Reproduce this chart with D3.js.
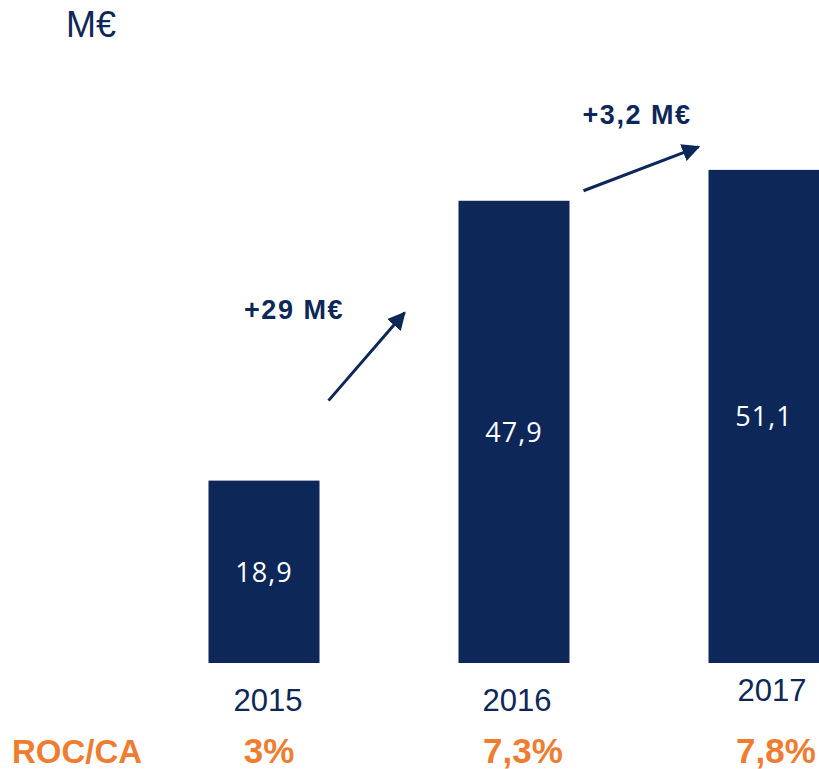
<!DOCTYPE html>
<html>
<head>
<meta charset="utf-8">
<script src="https://cdn.jsdelivr.net/npm/d3@7"></script>
<style>
  body { margin: 0; background: #fff; }
</style>
</head>
<body>
<svg width="819" height="769"></svg>
<script>
var years = ["2015", "2016", "2017"];
var values = [18.9, 47.9, 51.1];
var valueLabels = ["18,9", "47,9", "51,1"];
var ratioLabels = ["3%", "7,3%", "7,8%"];
var deltaLabels = ["+29 M€", "+3,2 M€"];

var navy = "#0c2758",
  orange = "#ef7d31";

var svg = d3.select("svg"),
  width = +svg.attr("width"),
  height = +svg.attr("height");

var x = d3.scaleBand()
  .domain(years)
  .range([139, 889])
  .paddingInner(0.556)
  .paddingOuter(0.278);

var y = d3.scaleLinear()
  .domain([0, 55])
  .range([663, 663 - 55 * 9.65]);

function mid(i) { return x(years[i]) + x.bandwidth() / 2; }

// unit label
svg.append("text")
  .attr("x", 66)
  .attr("y", 37)
  .attr("font-family", "Liberation Sans, Arial, sans-serif")
  .attr("font-size", 36)
  .attr("fill", navy)
  .text("M€");

// bars
svg.append("g")
  .selectAll("rect")
  .data(values)
  .enter().append("rect")
    .attr("x", function(d, i) { return x(years[i]); })
    .attr("y", function(d) { return y(d); })
    .attr("width", x.bandwidth())
    .attr("height", function(d) { return y(0) - y(d); })
    .attr("fill", navy);

// values inside bars
svg.append("g")
  .selectAll("text")
  .data(values)
  .enter().append("text")
    .attr("x", function(d, i) { return mid(i); })
    .attr("y", function(d) { return (y(d) + y(0)) / 2; })
    .attr("dy", "0.36em")
    .attr("text-anchor", "middle")
    .attr("font-family", "Open Sans, Noto Sans, sans-serif")
    .attr("font-size", 27)
    .attr("letter-spacing", 1)
    .attr("fill", "#fff")
    .text(function(d, i) { return valueLabels[i]; });

// year labels (2017 sits a bit higher in the original)
var yearShift = [4, 3, 8];
svg.append("g")
  .selectAll("text")
  .data(years)
  .enter().append("text")
    .attr("x", function(d, i) { return mid(i) + yearShift[i]; })
    .attr("y", function(d, i) { return i == 2 ? 701 : 711; })
    .attr("text-anchor", "middle")
    .attr("font-family", "Liberation Sans, Arial, sans-serif")
    .attr("font-size", 31)
    .attr("fill", navy)
    .text(function(d) { return d; });

// ROC/CA row
svg.append("text")
  .attr("x", 12)
  .attr("y", 763)
  .attr("font-family", "Liberation Sans, Arial, sans-serif")
  .attr("font-weight", "bold")
  .attr("font-size", 33)
  .attr("fill", orange)
  .text("ROC/CA");

var ratioShift = [5, 9, 12];
svg.append("g")
  .selectAll("text")
  .data(ratioLabels)
  .enter().append("text")
    .attr("x", function(d, i) { return mid(i) + ratioShift[i]; })
    .attr("y", 763)
    .attr("text-anchor", "middle")
    .attr("font-family", "Liberation Sans, Arial, sans-serif")
    .attr("font-weight", "bold")
    .attr("font-size", 35)
    .attr("fill", orange)
    .text(function(d) { return d; });

// growth arrows
svg.append("defs").append("marker")
  .attr("id", "head")
  .attr("viewBox", "0 0 10 10")
  .attr("refX", 9)
  .attr("refY", 5)
  .attr("markerWidth", 6)
  .attr("markerHeight", 6)
  .attr("markerUnits", "strokeWidth")
  .attr("orient", "auto")
  .append("path")
    .attr("d", "M0,0 L10,5 L0,10 Z")
    .attr("fill", navy);

var arrows = [
  { x1: x("2015") + x.bandwidth() + 9, y1: y(values[0]) - 80, x2: x("2016") - 54, y2: y(values[1]) + 112,
    lx: 294, ly: 319 },
  { x1: x("2016") + x.bandwidth() + 14, y1: y(values[1]) - 10, x2: x("2017") - 10, y2: y(values[2]) - 23,
    lx: 637, ly: 124 }
];

svg.append("g")
  .selectAll("line")
  .data(arrows)
  .enter().append("line")
    .attr("x1", function(d) { return d.x1; })
    .attr("y1", function(d) { return d.y1; })
    .attr("x2", function(d) { return d.x2; })
    .attr("y2", function(d) { return d.y2; })
    .attr("stroke", navy)
    .attr("stroke-width", 3)
    .attr("marker-end", "url(#head)");

svg.append("g")
  .selectAll("text")
  .data(arrows)
  .enter().append("text")
    .attr("x", function(d) { return d.lx; })
    .attr("y", function(d) { return d.ly; })
    .attr("text-anchor", "middle")
    .attr("font-family", "Liberation Sans, Arial, sans-serif")
    .attr("font-weight", "bold")
    .attr("font-size", 27)
    .attr("letter-spacing", 1.5)
    .attr("fill", navy)
    .text(function(d, i) { return deltaLabels[i]; });
</script>
</body>
</html>
